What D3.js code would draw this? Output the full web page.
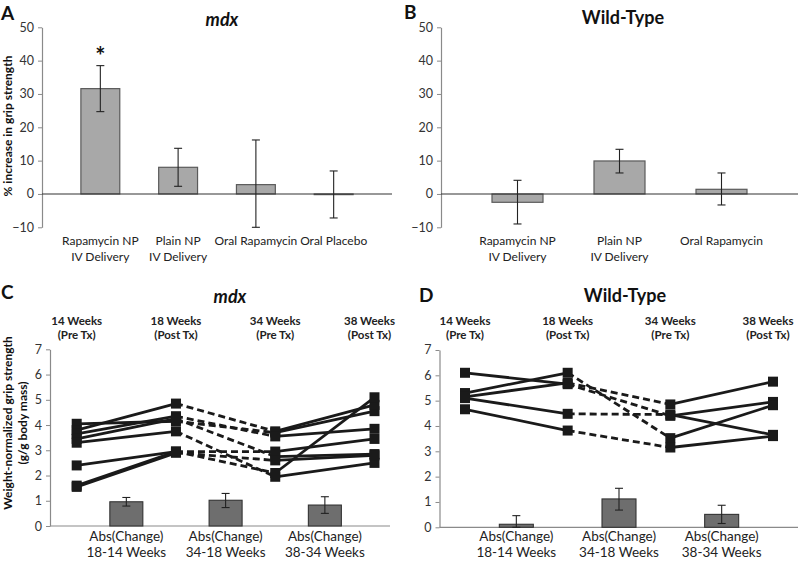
<!DOCTYPE html>
<html>
<head>
<meta charset="utf-8">
<script src="https://cdn.jsdelivr.net/npm/d3@7"></script>
<style>
  body { margin: 0; background: #fff; }
  svg text { font-family: Lato, "Open Sans", sans-serif; }
</style>
</head>
<body>
<div id="container"></div>
<script>
// ---- data ----
const mdxCats = [["Rapamycin NP", "IV Delivery"], ["Plain NP", "IV Delivery"], ["Oral Rapamycin"], ["Oral Placebo"]];
const mdxPct = [31.6, 8.0, 2.8, -0.2];
const mdxPctHi = [38.5, 13.7, 16.2, 6.9];
const mdxPctLo = [24.7, 2.3, -10, -7.2];

const wtCats = [["Rapamycin NP", "IV Delivery"], ["Plain NP", "IV Delivery"], ["Oral Rapamycin"]];
const wtPct = [-2.5, 9.9, 1.4];
const wtPctHi = [4.1, 13.4, 6.3];
const wtPctLo = [-9.0, 6.3, -3.3];

const pctTicks = [-10, 0, 10, 20, 30, 40, 50];

const timeLabels = ["14 Weeks", "18 Weeks", "34 Weeks", "38 Weeks"];
const timeSub = ["(Pre Tx)", "(Post Tx)", "(Pre Tx)", "(Post Tx)"];
const changeLabels = [["Abs(Change)", "18-14 Weeks"], ["Abs(Change)", "34-18 Weeks"], ["Abs(Change)", "38-34 Weeks"]];

// one row per mouse: 14, 18, 34, 38 weeks
const mdxMice = [
  [4.05, 4.15, 3.70, 4.55],
  [3.80, 4.85, 3.75, 4.80],
  [3.65, 4.35, 3.55, 3.85],
  [3.45, 4.25, 2.75, 2.85],
  [3.30, 3.75, 1.95, 2.50],
  [2.40, 2.95, 2.95, 3.45],
  [1.60, 2.95, 2.10, 5.10],
  [1.55, 2.90, 2.60, 2.80]
];
const mdxChange = [0.96, 1.02, 0.83];
const mdxChangeHi = [1.13, 1.29, 1.16];
const mdxChangeLo = [0.79, 0.73, 0.50];

const wtMice = [
  [6.10, 5.65, 4.40, 4.95],
  [5.30, 6.10, 3.52, 4.82],
  [5.15, 5.70, 4.85, 5.75],
  [5.10, 4.48, 4.45, 3.65],
  [4.66, 3.82, 3.15, 3.60]
];
const wtChange = [0.12, 1.12, 0.51];
const wtChangeHi = [0.46, 1.54, 0.87];
const wtChangeLo = [0.0, 0.68, 0.15];

const strengthTicks = [0, 1, 2, 3, 4, 5, 6, 7];

// ---- drawing ----
const W = 799, H = 561;
const svg = d3.select("#container").append("svg").attr("width", W).attr("height", H);

function panelLetter(txt, x, y) {
  svg.append("text").attr("x", x).attr("y", y).text(txt)
    .attr("font-size", 19).attr("font-weight", "bold").attr("fill", "#111");
}

function title(txt, x, y, italic) {
  svg.append("text").attr("x", x).attr("y", y).attr("text-anchor", "middle").text(txt)
    .attr("font-size", 18).attr("font-weight", "bold").attr("fill", "#111")
    .attr("font-style", italic ? "italic" : "normal");
}

function yAxis(g, y, x0, ticks) {
  const ax = g.append("g").attr("transform", `translate(${x0},0)`)
    .call(d3.axisLeft(y).tickValues(ticks).tickFormat(d3.format("d")).tickSize(4).tickPadding(4).tickSizeOuter(0));
  ax.select(".domain").attr("stroke", "#8a8a8a").attr("stroke-width", 1.2);
  ax.selectAll(".tick line").attr("stroke", "#8a8a8a");
  ax.selectAll(".tick text").attr("font-size", 12.5).attr("fill", "#333")
    .attr("font-family", "Lato, sans-serif");
}

function errBars(g, xs, hi, lo, y, cap) {
  hi.forEach((h, i) => {
    const x = xs[i];
    g.append("line").attr("x1", x).attr("x2", x).attr("y1", y(h)).attr("y2", y(lo[i]));
    g.append("line").attr("x1", x - cap).attr("x2", x + cap).attr("y1", y(h)).attr("y2", y(h));
    g.append("line").attr("x1", x - cap).attr("x2", x + cap).attr("y1", y(lo[i])).attr("y2", y(lo[i]));
  });
  g.selectAll("line").attr("stroke", "#222").attr("stroke-width", 1.1);
}

function barPanel(opt) {
  const x = d3.scaleBand().domain(d3.range(opt.cats.length)).range([opt.x0, opt.x1]).padding(opt.pad);
  const y = d3.scaleLinear().domain([-10, 50]).range([227.3, 27.3]);
  const g = svg.append("g");
  yAxis(g, y, opt.x0, pctTicks);
  g.append("g").selectAll("rect").data(opt.vals).join("rect")
    .attr("x", (d, i) => x(i)).attr("width", x.bandwidth())
    .attr("y", d => y(Math.max(0, d))).attr("height", d => Math.abs(y(d) - y(0)))
    .attr("fill", "#a8a8a8").attr("stroke", "#5a5a5a").attr("stroke-width", 1.2);
  g.append("line").attr("x1", opt.x0).attr("x2", opt.x1).attr("y1", y(0)).attr("y2", y(0))
    .attr("stroke", "#333").attr("stroke-width", 1.1);
  errBars(g.append("g"), opt.vals.map((d, i) => x(i) + x.bandwidth() / 2), opt.hi, opt.lo, y, 4);
  opt.cats.forEach((lines, i) => {
    const t = g.append("text").attr("text-anchor", "middle").attr("font-size", 12).attr("fill", "#222");
    lines.forEach((s, k) => t.append("tspan").attr("x", x(i) + x.bandwidth() / 2).attr("y", 245 + k * 15.5).text(s));
  });
  return { x, y, g };
}

// A
panelLetter("A", 1, 20);
title("mdx", 222, 26, true);
const pA = barPanel({ cats: mdxCats, vals: mdxPct, hi: mdxPctHi, lo: mdxPctLo, x0: 42, x1: 392, pad: 0.5 });
pA.g.append("text").attr("x", pA.x(0) + pA.x.bandwidth() / 2).attr("y", pA.y(mdxPctHi[0]) - 1)
  .attr("text-anchor", "middle").attr("font-size", 24).attr("font-weight", "bold").attr("fill", "#111").text("*");
svg.append("text").attr("transform", "translate(12,126) rotate(-90)").attr("text-anchor", "middle")
  .attr("font-size", 12).attr("font-weight", "bold").attr("fill", "#111").text("% increase in grip strength");

// B
panelLetter("B", 404, 19);
title("Wild-Type", 623, 24, false);
barPanel({ cats: wtCats, vals: wtPct, hi: wtPctHi, lo: wtPctLo, x0: 441, x1: 798, pad: 0.5 });

function linePanel(opt) {
  const x = d3.scalePoint().domain(d3.range(7)).range([opt.px0, opt.px1]);
  const y = d3.scaleLinear().domain([0, 7]).range([opt.yBot, opt.yBot - 7 * opt.unit]);
  const g = svg.append("g");
  yAxis(g, y, opt.x0, strengthTicks);
  g.append("line").attr("x1", opt.x0).attr("x2", opt.x1).attr("y1", y(0)).attr("y2", y(0))
    .attr("stroke", "#8a8a8a").attr("stroke-width", 1.2);

  // change bars
  const bx = [1, 3, 5].map(i => x(i));
  g.append("g").selectAll("rect").data(opt.change).join("rect")
    .attr("x", (d, i) => bx[i] - opt.bw / 2).attr("width", opt.bw)
    .attr("y", d => y(d)).attr("height", d => y(0) - y(d))
    .attr("fill", "#6e6e6e").attr("stroke", "#333").attr("stroke-width", 1.1);
  errBars(g.append("g"), bx, opt.hi, opt.lo, y, 4);

  // mouse trajectories
  const tx = [0, 2, 4, 6].map(i => x(i));
  const seg = g.append("g");
  opt.mice.forEach(m => {
    for (let k = 0; k < 3; k++) {
      seg.append("line").attr("x1", tx[k]).attr("x2", tx[k + 1]).attr("y1", y(m[k])).attr("y2", y(m[k + 1]))
        .attr("stroke", "#1a1a1a").attr("stroke-width", 2.8)
        .attr("stroke-dasharray", k === 1 ? "7,4" : null);
    }
  });
  opt.mice.forEach(m => {
    seg.selectAll(null).data(m).join("rect")
      .attr("x", (d, k) => tx[k] - 5).attr("y", d => y(d) - 5).attr("width", 10).attr("height", 10)
      .attr("fill", "#1a1a1a");
  });

  // headers
  timeLabels.forEach((s, k) => {
    const t = g.append("text").attr("text-anchor", "middle").attr("font-size", 11.5)
      .attr("font-weight", "bold").attr("fill", "#222");
    const hx = tx[k] + (k === 3 ? -5 : 0);
    t.append("tspan").attr("x", hx).attr("y", opt.hy).text(s);
    t.append("tspan").attr("x", hx).attr("y", opt.hy + 14).text(timeSub[k]);
  });
  changeLabels.forEach((lines, i) => {
    const t = g.append("text").attr("text-anchor", "middle").attr("font-size", 13.5).attr("fill", "#222");
    lines.forEach((s, k) => t.append("tspan").attr("x", bx[i]).attr("y", 541 + k * 16).text(s));
  });
  return { x, y, g };
}

// C
panelLetter("C", 1, 299);
title("mdx", 230, 303, true);
linePanel({ mice: mdxMice, change: mdxChange, hi: mdxChangeHi, lo: mdxChangeLo,
  x0: 50, x1: 390, px0: 76.7, px1: 374.5, yBot: 526, unit: 25.24, bw: 33, hy: 325 });
const yl = svg.append("text").attr("transform", "translate(12,423) rotate(-90)").attr("text-anchor", "middle")
  .attr("font-size", 12).attr("font-weight", "bold").attr("fill", "#111");
yl.append("tspan").attr("x", 0).attr("y", 0).text("Weight-normalized grip strength");
yl.append("tspan").attr("x", 0).attr("y", 15).text("(g/g body mass)");

// D
panelLetter("D", 419, 302);
title("Wild-Type", 625, 302, false);
linePanel({ mice: wtMice, change: wtChange, hi: wtChangeHi, lo: wtChangeLo,
  x0: 439.5, x1: 798, px0: 465, px1: 773, yBot: 527.3, unit: 25.33, bw: 34, hy: 325 });
</script>
</body>
</html>
